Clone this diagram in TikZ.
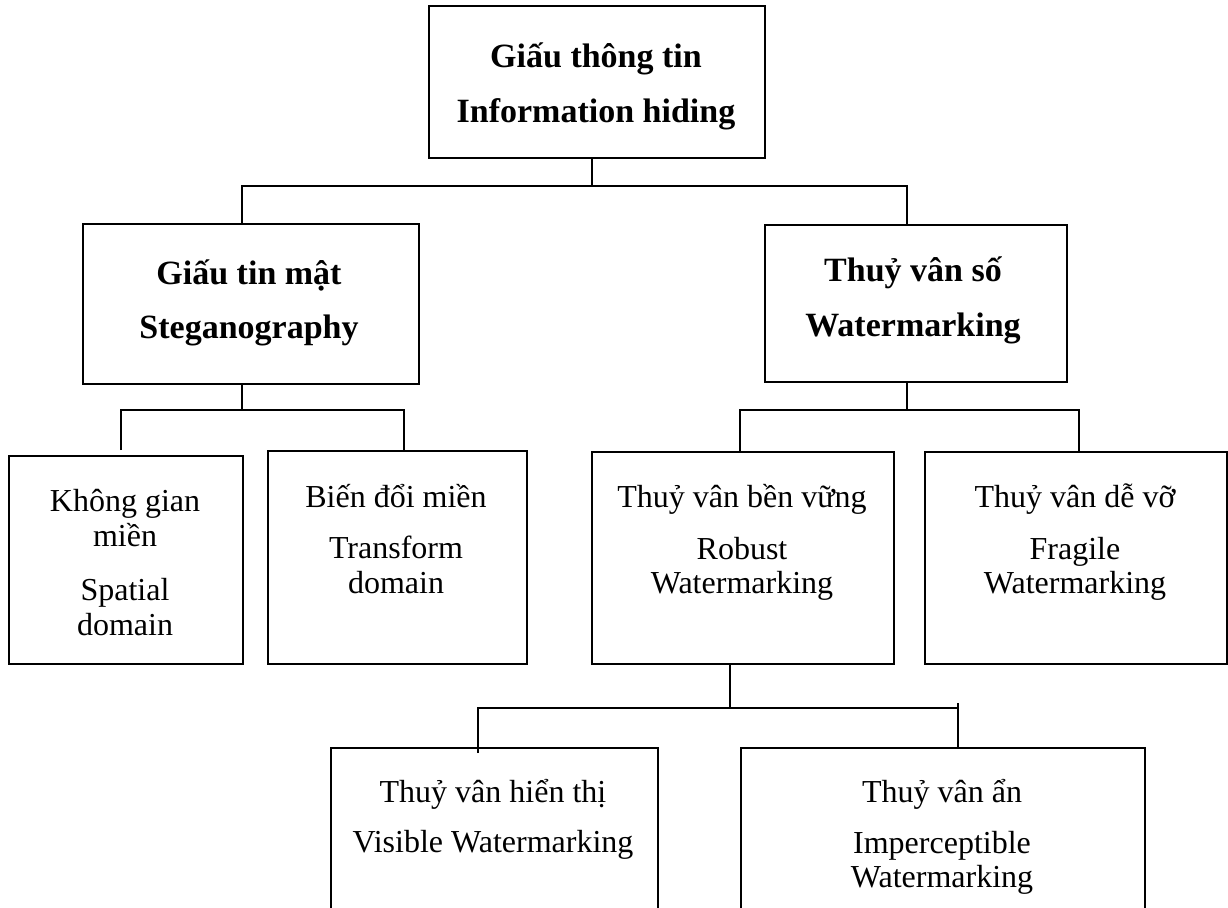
\documentclass[tikz,border=0pt]{standalone}
\usepackage{fontspec}
\setmainfont{Liberation Serif}
\begin{document}
\begin{tikzpicture}[x=1pt,y=-1pt,
  box/.style={draw, line width=1.8pt, inner sep=0pt, anchor=north west},
  wire/.style={line width=1.4pt},
  hd/.style={font=\fontsize{34}{40}\selectfont\bfseries, anchor=base, inner sep=0pt},
  tx/.style={font=\fontsize{32}{38}\selectfont, anchor=base, inner sep=0pt}]
\useasboundingbox (0,0) rectangle (1228,907);
\clip (0,0) rectangle (1228,907);

% ---- boxes ----
\node[box, minimum width=336pt, minimum height=152pt] (top)     at (428,5)   {};
\node[box, minimum width=336pt, minimum height=160pt] (stego)   at (82,223)  {};
\node[box, minimum width=302pt, minimum height=157pt] (water)   at (764,224) {};
\node[box, minimum width=234pt, minimum height=208pt] (space)   at (8,455)   {};
\node[box, minimum width=259pt, minimum height=213pt] (trans)   at (267,450) {};
\node[box, minimum width=302pt, minimum height=212pt] (robust)  at (591,451) {};
\node[box, minimum width=302pt, minimum height=212pt] (fragile) at (924,451) {};
\node[box, minimum width=327pt, minimum height=260pt] (visible) at (330,747) {};
\node[box, minimum width=404pt, minimum height=260pt] (imperc)  at (740,747) {};

% ---- labels ----
\node[hd] (top1) at (596,67)  {Giấu thông tin};
\node[hd] (top2) at (596,122) {Information hiding};

\node[hd] (st1) at (249,284) {Giấu tin mật};
\node[hd] (st2) at (249,338) {Steganography};

\node[hd] (wa1) at (913,281) {Thuỷ vân số};
\node[hd] (wa2) at (913,336) {Watermarking};

\node[tx] (sp1) at (125,511) {Không gian};
\node[tx] (sp2) at (125,546) {miền};
\node[tx] (sp3) at (125,600) {Spatial};
\node[tx] (sp4) at (125,635) {domain};

\node[tx] (tr1) at (396,507) {Biến đổi miền};
\node[tx] (tr2) at (396,558) {Transform};
\node[tx] (tr3) at (396,593) {domain};

\node[tx] (ro1) at (742,507) {Thuỷ vân bền vững};
\node[tx] (ro2) at (742,559) {Robust};
\node[tx] (ro3) at (742,593) {Watermarking};

\node[tx] (fr1) at (1075,507) {Thuỷ vân dễ vỡ};
\node[tx] (fr2) at (1075,559) {Fragile};
\node[tx] (fr3) at (1075,593) {Watermarking};

\node[tx] (vi1) at (493,802) {Thuỷ vân hiển thị};
\node[tx] (vi2) at (493,852) {Visible Watermarking};

\node[tx] (im1) at (942,802) {Thuỷ vân ẩn};
\node[tx] (im2) at (942,853) {Imperceptible};
\node[tx] (im3) at (942,887) {Watermarking};

% ---- connectors ----
\coordinate (b1)  at (592,186);
\coordinate (b1l) at (242,186);
\coordinate (b1r) at (907,186);
\draw[wire] (top.south -| b1) -- (b1);
\draw[wire] (stego.north -| b1l) -- (b1l) -- (b1r) -- (water.north -| b1r);

\coordinate (b2)  at (242,410);
\coordinate (b2l) at (121,410);
\coordinate (b2r) at (404,410);
\coordinate (e2l) at (121,450);
\draw[wire] (stego.south -| b2) -- (b2);
\draw[wire] (e2l) -- (b2l) -- (b2r) -- (trans.north -| b2r);

\coordinate (b3)  at (907,410);
\coordinate (b3l) at (740,410);
\coordinate (b3r) at (1079,410);
\draw[wire] (water.south -| b3) -- (b3);
\draw[wire] (robust.north -| b3l) -- (b3l) -- (b3r) -- (fragile.north -| b3r);

\coordinate (b4)  at (730,708);
\coordinate (b4l) at (478,708);
\coordinate (b4r) at (958,708);
\coordinate (e4l) at (478,753);
\coordinate (s4r) at (958,703);
\coordinate (e4r) at (958,749);
\draw[wire] (robust.south -| b4) -- (b4);
\draw[wire] (e4l) -- (b4l) -- (b4r);
\draw[wire] (s4r) -- (e4r);
\end{tikzpicture}
\end{document}
